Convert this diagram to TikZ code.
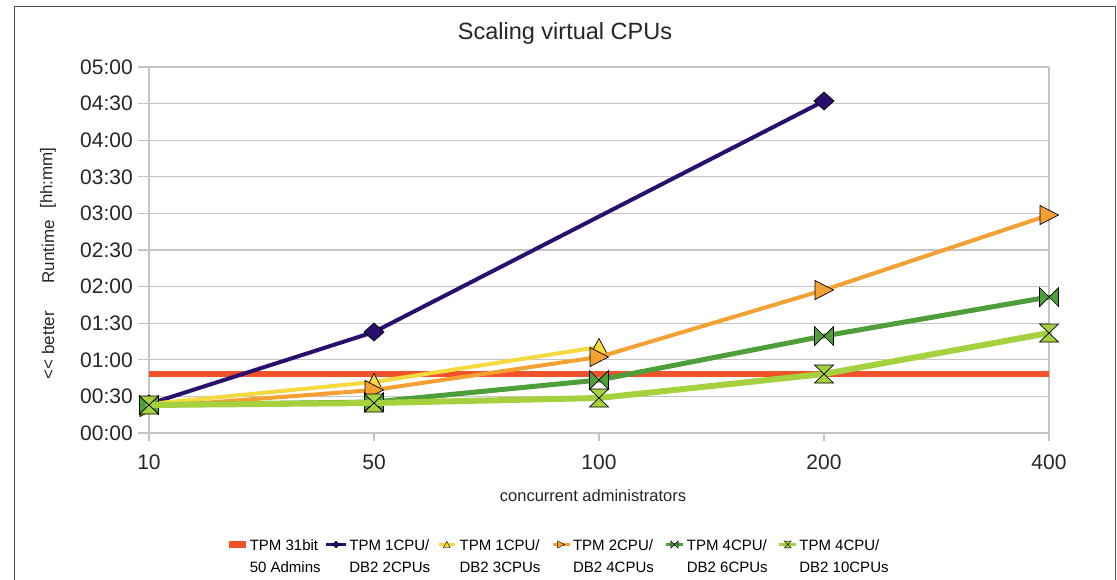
\documentclass[tikz,border=0pt]{standalone}
\usepackage{fontspec}
\setmainfont{Liberation Sans}
\usetikzlibrary{shapes.geometric}

\definecolor{cRed}{HTML}{F0522A}
\definecolor{cNavy}{HTML}{2A0F6E}
\definecolor{cYel}{HTML}{F6D93F}
\definecolor{cOra}{HTML}{F5A032}
\definecolor{cDkg}{HTML}{4E9E3A}
\definecolor{cLtg}{HTML}{A6D13E}
\definecolor{gridc}{HTML}{C4C4C4}
\definecolor{framec}{HTML}{505050}

\tikzset{
  mkdiamond/.pic={\path[pic actions] (-10,0)--(0,-9)--(10,0)--(0,9)--cycle;},
  mkup/.pic={\path[pic actions] (-9,8.5)--(9,8.5)--(0,-8.5)--cycle;},
  mkright/.pic={\path[pic actions] (-9,-9.5)--(9.5,0)--(-9,9.5)--cycle;},
  mkbow/.pic={\path[pic actions] (-9.5,-9.5)--(9.5,9.5)--(9.5,-9.5)--(-9.5,9.5)--cycle;},
  mkglass/.pic={\path[pic actions] (-9.5,-9)--(9.5,-9)--(-9.5,9)--(9.5,9)--cycle;},
  mk/.style={draw=black, line width=0.7pt},
  serie/.style={line join=round, line cap=round},
  gridline/.style={draw=gridc, line width=1.3pt},
  ticklab/.style={font=\fontsize{21}{25}\selectfont, text=black!85, inner sep=0pt},
  legtext/.style={font=\fontsize{15}{22}\selectfont, align=left, anchor=base west, inner sep=0pt},
  axtitle/.style={font=\fontsize{17}{20}\selectfont, text=black!85, inner sep=0pt, rotate=90},
}

\begin{document}
\begin{tikzpicture}[x=1pt,y=-1pt]
\useasboundingbox (0,0) rectangle (1117,579);
\fill[white] (0,0) rectangle (1117,579);

% outer chart frame (its bottom edge lies below the page)
\draw[framec, line width=1.3pt] (14.7,6.7) rectangle (1115.5,600);

% title
\node[font=\fontsize{23.5}{28}\selectfont, text=black!85] (title) at (565,33) {Scaling virtual CPUs};

% horizontal grid lines with tick labels
\foreach \i/\lab in {0/00:00,1/00:30,2/01:00,3/01:30,4/02:00,5/02:30,6/03:00,7/03:30,8/04:00,9/04:30,10/05:00}{
  \draw[gridline] (138,433-36.6*\i) -- (1049,433-36.6*\i);
  \node[ticklab, anchor=east] at (133,433-36.6*\i) {\lab};
}
% plot area sides
\draw[gridline] (149,67) -- (149,441);
\draw[gridline] (1049,67) -- (1049,441);

% category ticks and labels
\foreach \x/\lab in {149/10,374/50,599/100,824/200,1049/400}{
  \draw[gridline] (\x,433) -- (\x,441);
  \node[ticklab] at (\x,462) {\lab};
}

% axis titles
\node[font=\fontsize{16.5}{20}\selectfont, text=black!85] (xtitle) at (593,496) {concurrent administrators};
\node[axtitle] (yt1) at (48,345) {{<}{<} better};
\node[axtitle] (yt2) at (48,252) {Runtime};
\node[axtitle] (yt3) at (48,178) {[hh:mm]};

% data points
\coordinate (r1) at (149,374.3);  \coordinate (r2) at (1049,374.3);
\coordinate (n1) at (149,404);    \coordinate (n2) at (374,332);  \coordinate (n3) at (824,101);
\coordinate (y1) at (149,404);    \coordinate (y2) at (374,382);  \coordinate (y3) at (599,347);
\coordinate (o1) at (149,407);    \coordinate (o2) at (374,390);  \coordinate (o3) at (599,357);
\coordinate (o4) at (824,290);    \coordinate (o5) at (1049,215);
\coordinate (d1) at (149,405);    \coordinate (d2) at (374,402);  \coordinate (d3) at (599,380);
\coordinate (d4) at (824,336);    \coordinate (d5) at (1049,297);
\coordinate (l1) at (149,405);    \coordinate (l2) at (374,403);  \coordinate (l3) at (599,398);
\coordinate (l4) at (824,374);    \coordinate (l5) at (1049,333);

% TPM 31bit reference
\draw[serie, cRed, line width=6pt, line cap=butt] (r1) -- (r2);

% TPM 1 CPU / DB2 2 CPUs
\draw[serie, cNavy, line width=4pt] (n1) -- (n2) -- (n3);
\foreach \p in {n1,n2,n3} \pic[mk, fill=cNavy] at (\p) {mkdiamond};

% TPM 1 CPU / DB2 3 CPUs
\draw[serie, cYel, line width=4pt] (y1) -- (y2) -- (y3);
\foreach \p in {y1,y2,y3} \pic[mk, fill=cYel] at (\p) {mkup};

% TPM 2 CPU / DB2 4 CPUs
\draw[serie, cOra, line width=4pt] (o1) -- (o2) -- (o3) -- (o4) -- (o5);
\foreach \p in {o1,o2,o3,o4,o5} \pic[mk, fill=cOra] at (\p) {mkright};

% TPM 4 CPU / DB2 6 CPUs
\draw[serie, cDkg, line width=5pt] (d1) -- (d2) -- (d3) -- (d4) -- (d5);
\foreach \p in {d1,d2,d3,d4,d5} \pic[mk, fill=cDkg] at (\p) {mkbow};

% TPM 4 CPU / DB2 10 CPUs
\draw[serie, cLtg, line width=6pt] (l1) -- (l2) -- (l3) -- (l4) -- (l5);
\foreach \p in {l1,l2,l3,l4,l5} \pic[mk, fill=cLtg] at (\p) {mkglass};

% legend (node base = baseline of the second text line)
\fill[cRed] (228.5,541) rectangle (246,548);
\node[legtext] (lg1) at (249.6,572.5) {TPM 31bit\\50 Admins};

\coordinate (ka) at (326,544.5); \coordinate (kb) at (346,544.5);
\draw[cNavy, line width=3pt] (ka) -- (kb);
\pic[mk, line width=0.4pt, fill=cNavy, scale=0.38] at (336,544.5) {mkdiamond};
\node[legtext] (lg2) at (349.2,572.5) {TPM 1CPU/\\DB2 2CPUs};

\coordinate (kc) at (438.7,544.5); \coordinate (kd) at (455,544.5);
\draw[cYel, line width=3pt] (kc) -- (kd);
\pic[mk, line width=0.4pt, fill=cYel, scale=0.38] at (446.8,544.5) {mkup};
\node[legtext] (lg3) at (459.4,572.5) {TPM 1CPU/\\DB2 3CPUs};

\coordinate (ke) at (552.6,544.5); \coordinate (kf) at (569.6,544.5);
\draw[cOra, line width=3pt] (ke) -- (kf);
\pic[mk, line width=0.4pt, fill=cOra, scale=0.38] at (561,544.5) {mkright};
\node[legtext] (lg4) at (572.8,572.5) {TPM 2CPU/\\DB2 4CPUs};

\coordinate (kg) at (666,544.5); \coordinate (kh) at (683,544.5);
\draw[cDkg, line width=3pt] (kg) -- (kh);
\pic[mk, line width=0.4pt, fill=cDkg, scale=0.38] at (674.5,544.5) {mkbow};
\node[legtext] (lg5) at (686.7,572.5) {TPM 4CPU/\\DB2 6CPUs};

\coordinate (ki) at (779.4,544.5); \coordinate (kj) at (796,544.5);
\draw[cLtg, line width=3pt] (ki) -- (kj);
\pic[mk, line width=0.4pt, fill=cLtg, scale=0.38] at (787.7,544.5) {mkglass};
\node[legtext] (lg6) at (799.2,572.5) {TPM 4CPU/\\DB2 10CPUs};
\end{tikzpicture}
\end{document}
